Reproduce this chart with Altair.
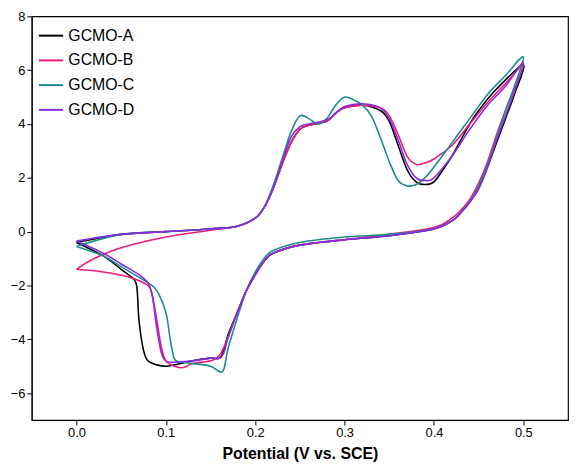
import altair as alt
import pandas as pd

# GCMO-A
a_x = [0.0,0.05,0.1,0.15,0.18,0.2,0.21,0.22,0.23,0.24,0.25,0.26,0.28,0.29,0.3,0.32,0.34,0.35,0.36,0.37,0.38,0.39,0.4,0.41,0.42,0.43,0.44,0.45,0.47,0.5,
       0.49,0.48,0.47,0.46,0.45,0.44,0.43,0.42,0.4,0.35,0.3,0.25,0.22,0.21,0.2,0.19,0.18,0.17,0.165,0.16,0.15,0.13,0.11,0.1,0.09,0.08,0.075,0.07,0.068,0.065,0.05,0.03,0.0]
a_y = [-0.4,-0.1,0.0,0.1,0.2,0.5,0.9,1.6,2.5,3.3,3.8,3.95,4.1,4.4,4.6,4.7,4.5,4.1,3.2,2.3,1.85,1.75,1.85,2.3,2.8,3.4,4.0,4.5,5.3,6.2,
       5.1,4.2,3.3,2.4,1.6,1.1,0.7,0.4,0.1,-0.15,-0.3,-0.5,-0.8,-1.1,-1.6,-2.2,-3.0,-3.8,-4.4,-4.7,-4.7,-4.8,-4.95,-5.0,-4.95,-4.8,-4.4,-3.3,-2.2,-1.8,-1.4,-0.9,-0.4]
# GCMO-B
b_x = [0.0,0.02,0.05,0.1,0.15,0.18,0.2,0.21,0.22,0.23,0.24,0.25,0.26,0.28,0.29,0.3,0.32,0.34,0.35,0.36,0.37,0.38,0.39,0.4,0.42,0.44,0.46,0.48,0.5,
       0.49,0.48,0.47,0.46,0.45,0.44,0.43,0.42,0.4,0.35,0.3,0.25,0.22,0.21,0.2,0.19,0.18,0.17,0.16,0.15,0.13,0.12,0.11,0.1,0.095,0.09,0.085,0.08,0.06,0.03,0.0]
b_y = [-1.4,-1.0,-0.6,-0.2,0.05,0.2,0.5,0.9,1.6,2.5,3.3,3.8,3.95,4.1,4.4,4.6,4.7,4.6,4.3,3.6,2.8,2.5,2.55,2.7,3.2,4.0,4.8,5.5,6.2,
       5.3,4.5,3.6,2.6,1.8,1.2,0.8,0.5,0.15,-0.1,-0.3,-0.5,-0.8,-1.1,-1.6,-2.2,-3.0,-3.9,-4.6,-4.8,-4.9,-5.05,-5.0,-4.8,-4.3,-3.3,-2.4,-2.0,-1.7,-1.5,-1.4]
# GCMO-C
c_x = [0.0,0.05,0.1,0.15,0.18,0.2,0.21,0.22,0.23,0.24,0.25,0.26,0.27,0.28,0.29,0.3,0.31,0.32,0.33,0.34,0.35,0.36,0.37,0.38,0.39,0.4,0.42,0.44,0.46,0.48,0.5,
       0.49,0.48,0.47,0.46,0.45,0.44,0.43,0.42,0.4,0.35,0.3,0.25,0.22,0.21,0.2,0.19,0.18,0.17,0.165,0.16,0.15,0.13,0.12,0.11,0.105,0.1,0.09,0.08,0.05,0.03,0.0]
c_y = [-0.55,-0.1,0.0,0.1,0.2,0.5,0.9,1.7,2.7,3.7,4.3,4.2,4.0,4.2,4.7,5.0,4.9,4.7,4.3,3.5,2.6,1.9,1.7,1.75,2.0,2.4,3.3,4.2,5.1,5.8,6.5,
       5.4,4.5,3.5,2.5,1.7,1.1,0.7,0.4,0.1,-0.1,-0.2,-0.4,-0.7,-1.0,-1.5,-2.2,-3.2,-4.3,-5.1,-5.2,-5.0,-4.9,-4.85,-4.75,-4.0,-3.0,-2.2,-1.9,-1.3,-0.9,-0.55]
# GCMO-D
d_x = [0.0,0.05,0.1,0.15,0.18,0.2,0.21,0.22,0.23,0.24,0.25,0.26,0.28,0.29,0.3,0.32,0.34,0.35,0.36,0.37,0.38,0.39,0.4,0.42,0.44,0.46,0.48,0.5,
       0.49,0.48,0.47,0.46,0.45,0.44,0.43,0.42,0.4,0.35,0.3,0.25,0.22,0.21,0.2,0.19,0.18,0.17,0.165,0.16,0.15,0.13,0.11,0.1,0.095,0.09,0.085,0.08,0.07,0.05,0.03,0.0]
d_y = [-0.35,-0.1,0.0,0.1,0.2,0.5,0.9,1.6,2.6,3.5,3.9,4.0,4.15,4.4,4.65,4.75,4.6,4.2,3.4,2.5,2.0,1.9,2.0,2.8,3.8,4.7,5.4,6.3,
       5.2,4.3,3.4,2.4,1.6,1.1,0.7,0.4,0.1,-0.15,-0.3,-0.5,-0.8,-1.1,-1.6,-2.2,-3.0,-3.9,-4.5,-4.7,-4.7,-4.8,-4.85,-4.8,-4.5,-3.6,-2.4,-1.9,-1.6,-1.2,-0.8,-0.35]

rows = []
for name, xs, ys in [("GCMO-A", a_x, a_y), ("GCMO-B", b_x, b_y), ("GCMO-C", c_x, c_y), ("GCMO-D", d_x, d_y)]:
    for i, (x, y) in enumerate(zip(xs, ys)):
        rows.append({"series": name, "x": x, "y": y, "i": i})
df = pd.DataFrame(rows)

chart = alt.Chart(df).mark_line(strokeWidth=1.6, interpolate="cardinal").encode(
    x=alt.X("x:Q", scale=alt.Scale(domain=[-0.05, 0.55], nice=False),
            axis=alt.Axis(values=[0.0,0.1,0.2,0.3,0.4,0.5], format=".1f", title="Potential (V vs. SCE)",
                          titleFontWeight="bold", titleFontSize=16, grid=False, titlePadding=6)),
    y=alt.Y("y:Q", scale=alt.Scale(domain=[-7, 8], nice=False),
            axis=alt.Axis(values=[-6,-4,-2,0,2,4,6,8], title=None, grid=False)),
    color=alt.Color("series:N", scale=alt.Scale(domain=["GCMO-A","GCMO-B","GCMO-C","GCMO-D"],
                    range=["#000000","#ec1c7c","#1a8c8c","#8a2be2"]),
                    legend=alt.Legend(title=None, orient="top-left", symbolType="stroke",
                                      symbolSize=600, symbolStrokeWidth=2, labelFontSize=16,
                                      offset=4, padding=2, rowPadding=3)),
    order="i:O",
).properties(width=542, height=408, padding={"left": 2, "top": 0, "right": 2, "bottom": 2}).configure_axis(
    labelFontSize=13, labelColor="black", domainColor="black", tickColor="black",
    labelFont="Arial", titleFont="Arial", titleColor="black"
).configure_legend(labelFont="Arial").configure_view(stroke="black", strokeWidth=1.2)

chart.save("out.html", embed_options={"renderer": "svg", "actions": False})
